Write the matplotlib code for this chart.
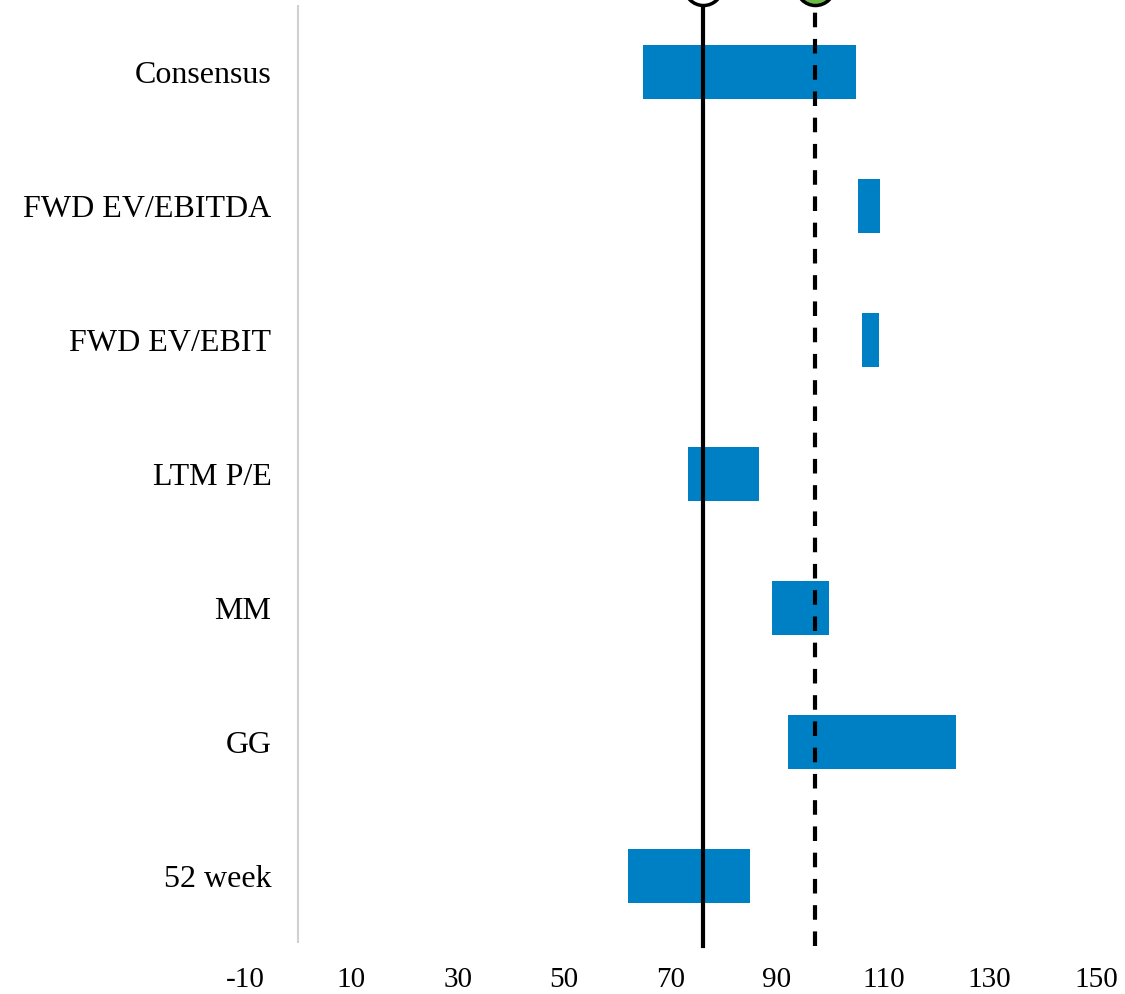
import numpy as np
import matplotlib.pyplot as plt

# Data
labels = ['52 week', 'GG', 'MM', 'LTM P/E', 'FWD EV/EBIT', 'FWD EV/EBITDA', 'Consensus']
lows = [62.0, 92.1, 89.1, 73.3, 106.0, 105.2, 64.8]
highs = [84.9, 123.6, 99.8, 86.6, 109.2, 109.4, 104.8]
current_price = 76.1
target_price = 97.1
xticks = [-10, 10, 30, 50, 70, 90, 110, 130, 150]

plt.rcParams['font.family'] = ['Liberation Serif', 'DejaVu Serif']

fig = plt.figure(figsize=(11.25, 9.94), dpi=100)
ax = fig.add_axes([245/1125, 1 - 943/994, (1096-245)/1125, (943-5)/994])

ypos = np.arange(len(labels))
widths = np.array(highs) - np.array(lows)
ax.barh(ypos, widths, left=lows, height=0.41, color='#0080C4', zorder=2)

ax.set_xlim(-10, 150)
ax.set_ylim(-0.5, 6.5)

# vertical axis line at 0
ax.axvline(0, ymin=0.0, ymax=1.0, color='#D0D0D0', lw=1.5, zorder=1)

# price lines
ax.plot([current_price, current_price], [-0.52, 6.7], color='black', lw=3,
        zorder=3, clip_on=False)
ax.plot([target_price, target_price], [-0.52, 6.7], color='black', lw=3,
        ls=(0, (3.5, 2.8)), zorder=3, clip_on=False)
ax.scatter([current_price], [6.64], s=750, facecolor='white', edgecolor='black',
           lw=2.5, zorder=4, clip_on=False)
ax.scatter([target_price], [6.64], s=750, facecolor='#6DBB45', edgecolor='black',
           lw=2.5, zorder=4, clip_on=False)

ax.set_yticks(ypos)
ax.set_yticklabels(labels, fontsize=23)
ax.tick_params(axis='y', length=0, pad=-19)
ax.set_xticks(xticks)
ax.set_xticklabels([str(t) for t in xticks], fontsize=21)
ax.tick_params(axis='x', length=0, pad=17)

for s in ax.spines.values():
    s.set_visible(False)

fig.savefig('out.png', dpi=100)
